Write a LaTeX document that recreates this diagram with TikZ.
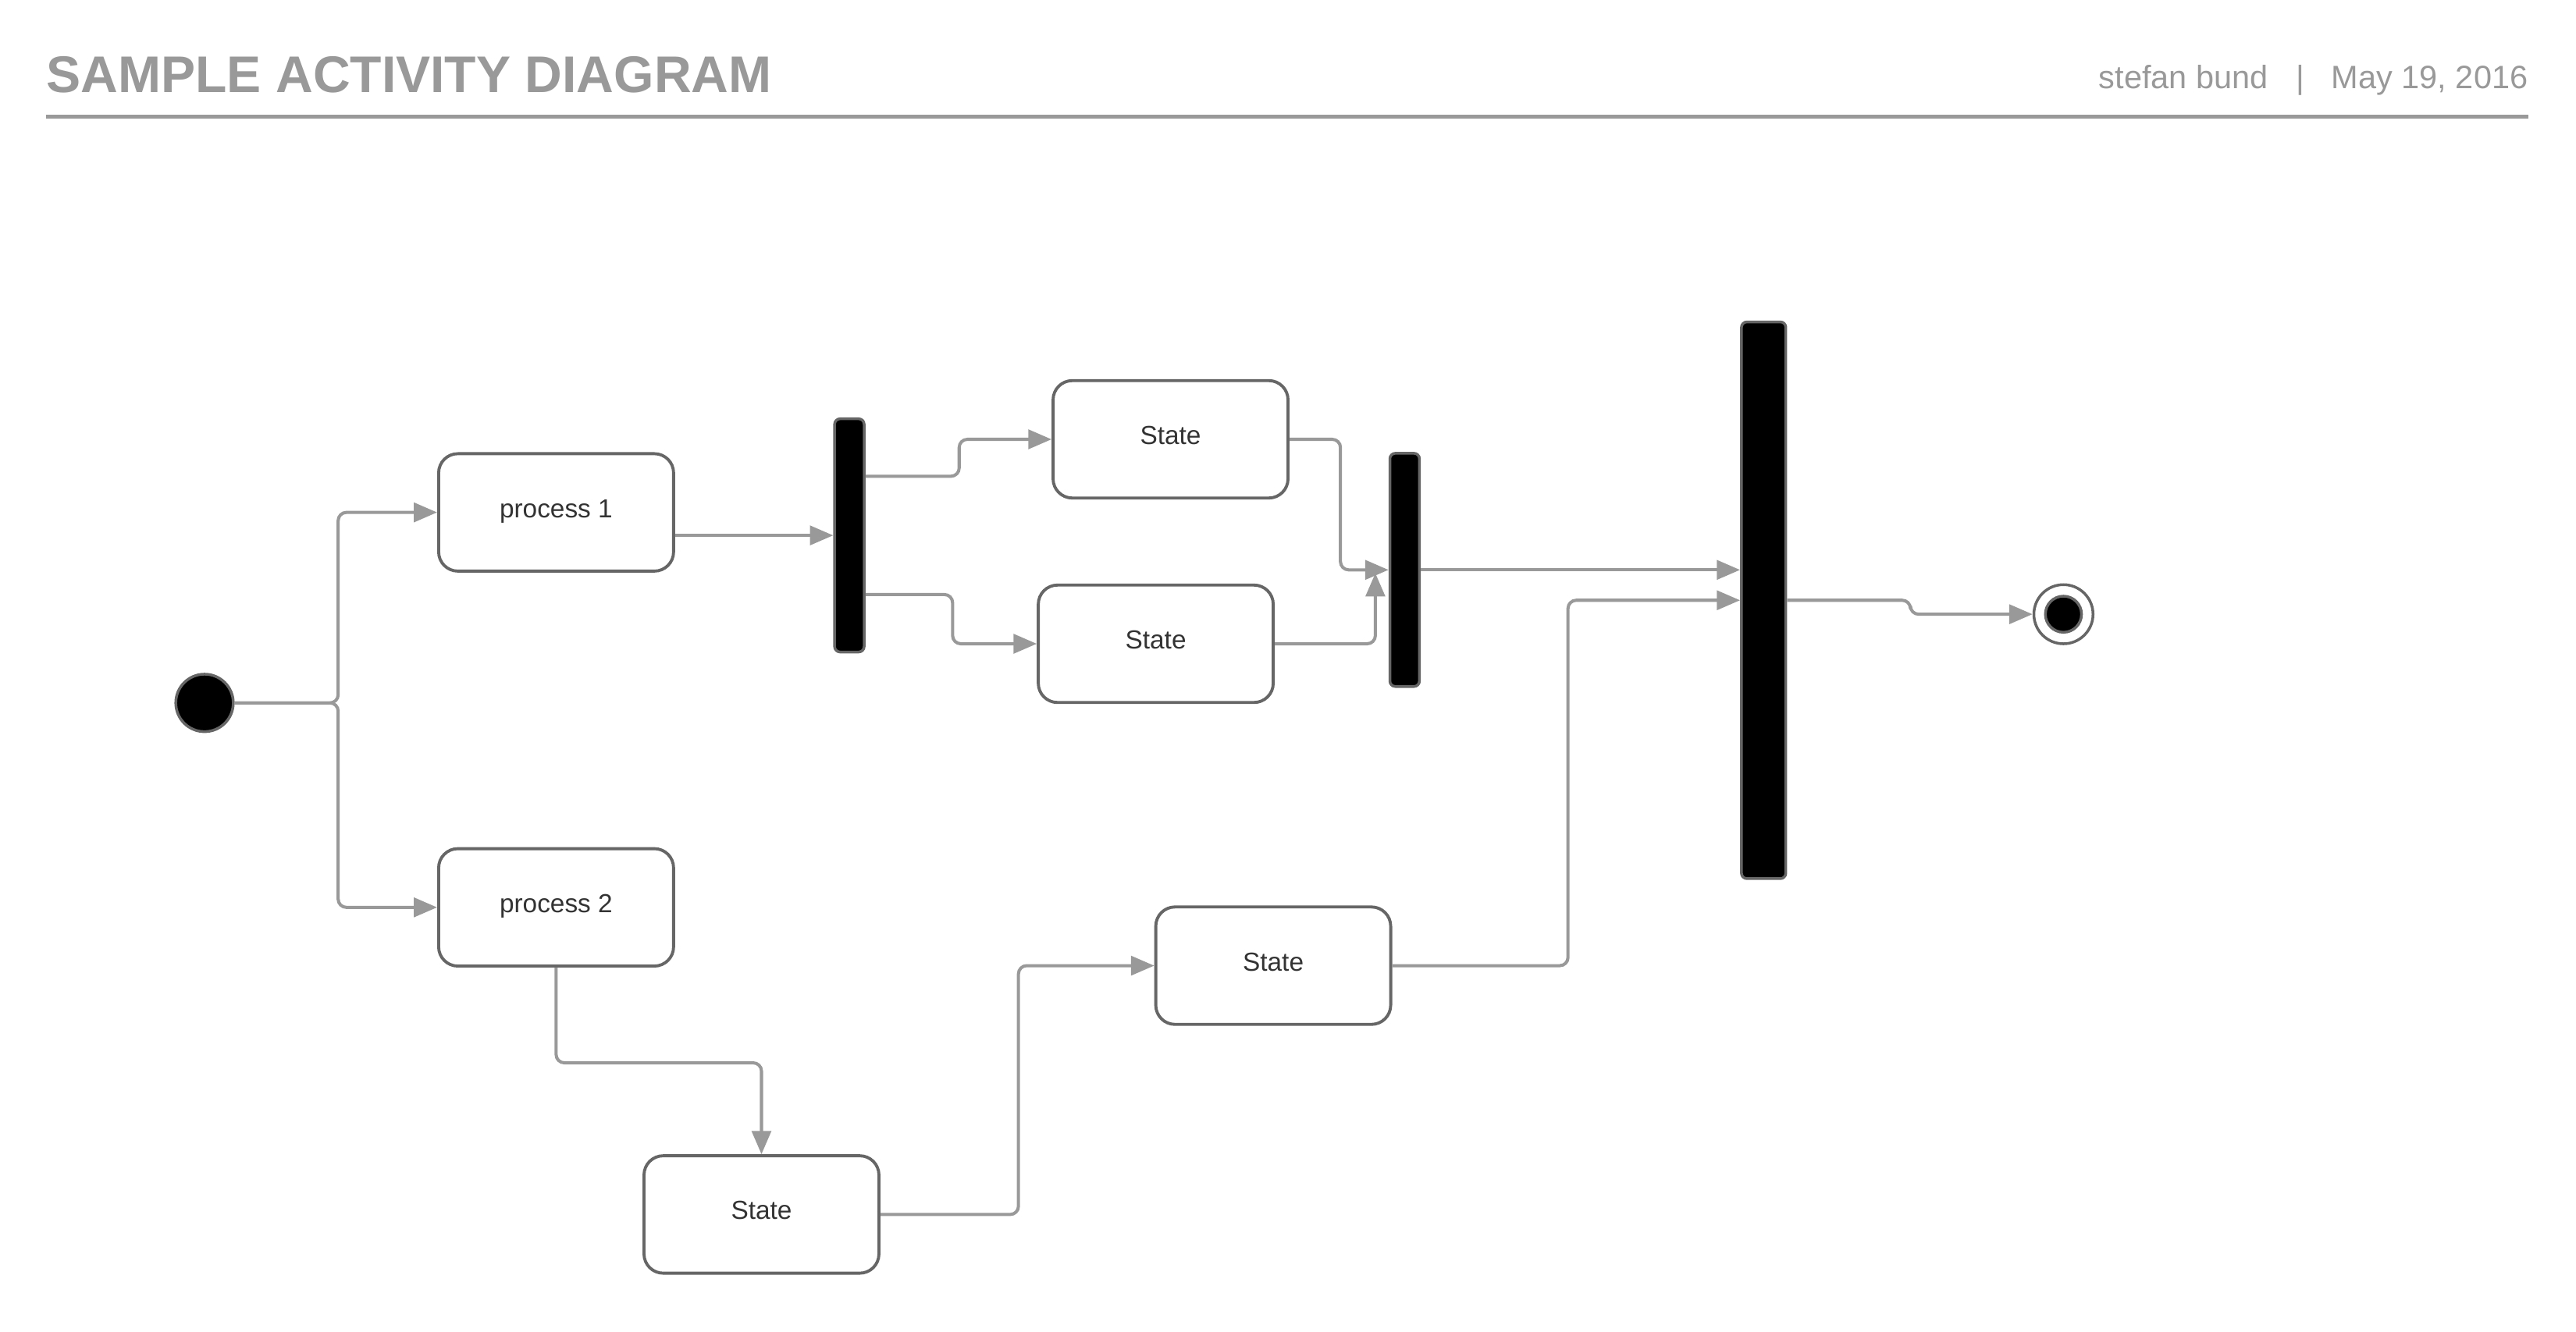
\documentclass[tikz,border=0pt]{standalone}
\usepackage{fontspec}
\setmainfont{Liberation Sans}
\usetikzlibrary{arrows.meta,calc}
\definecolor{hdr}{HTML}{999999}
\definecolor{conn}{HTML}{999999}
\definecolor{bord}{HTML}{666666}
\definecolor{txt}{HTML}{333333}
\def\u{0.021046cm}
\tikzset{
  statebox/.style={draw=bord, line width=1.1pt, rounded corners=7pt, fill=white,
    minimum width=143*\u, minimum height=71.5*\u, inner sep=0pt,
    text height=7pt, text depth=3.3pt,
    font=\fontsize{9.5}{11}\selectfont, text=txt},
  bar/.style={draw=bord, line width=1pt, fill=black, rounded corners=2pt, inner sep=0pt},
  arr/.style={draw=conn, line width=1.15pt, rounded corners=3pt,
    -{Triangle[length=8.5pt,width=7pt]}},
}
\begin{document}
\begin{tikzpicture}[x=\u, y=-\u]
\useasboundingbox (0,0) rectangle (1568,811);
% header
\node[anchor=base west, inner sep=0pt, text=hdr, font=\bfseries\fontsize{18.8}{22}\selectfont] (title) at (28,56.5) {SAMPLE ACTIVITY DIAGRAM};
\node[anchor=base east, inner sep=0pt, text=hdr, font=\fontsize{11.8}{14}\selectfont] (author) at (1381,54) {stefan bund};
\node[anchor=base, inner sep=0pt, text=hdr, font=\fontsize{11.8}{14}\selectfont] (sep) at (1400,54) {|};
\node[anchor=base east, inner sep=0pt, text=hdr, font=\fontsize{11.8}{14}\selectfont] (date) at (1539,54) {May 19, 2016};
\coordinate (hl) at (28,71);
\coordinate (hr) at (1539,71);
\draw[hdr, line width=1.2pt] (hl) -- (hr);

% nodes
\node[circle, draw=bord, line width=1pt, fill=black, minimum size=35*\u, inner sep=0pt] (init) at (124.5,428) {};
\node[statebox] (p1) at (338.5,312) {process 1};
\node[statebox] (p2) at (338.5,552.5) {process 2};
\node[bar, minimum width=18*\u, minimum height=142*\u] (f1) at (517,326) {};
\node[statebox] (sA) at (712.5,267.5) {State};
\node[statebox] (sB) at (703.5,392) {State};
\node[bar, minimum width=18*\u, minimum height=142*\u] (j2) at (855,347) {};
\node[bar, minimum width=27*\u, minimum height=339*\u] (big) at (1073.5,365.5) {};
\node[circle, draw=bord, line width=1pt, fill=white, minimum size=36*\u, inner sep=0pt] (fin) at (1256,374) {};
\node[circle, draw=bord, line width=1pt, fill=black, minimum size=22*\u, inner sep=0pt] (finc) at (1256,374) {};
\node[statebox] (sC) at (463.5,739.5) {State};
\node[statebox] (sD) at (775,588) {State};

% connectors
\draw[arr] (init.east) -- ++(63,0) |- (p1.west);
\draw[arr] (init.east) -- ++(63,0) |- (p2.west);
\draw[arr] (p1.east |- f1.west) -- (f1.west);
\draw[arr] ($(f1.east)+(0,-36)$) -- ++(57,0) |- (sA.west);
\draw[arr] ($(f1.east)+(0,36)$) -- ++(53,0) |- (sB.west);
\draw[arr] (sA.east) -- ++(31,0) |- (j2.west);
\draw[arr] (sB.east) -| ($(j2.west)+(-8,2)$);
\draw[arr] (j2.east) -- (j2.east -| big.west);
\draw[arr] (sD.east) -- ++(107,0) |- (big.west);
\draw[arr] (big.east) -- ++(75,0) |- (fin.west);
\draw[arr] (p2.south) -- ++(0,58) -| (sC.north);
\draw[arr] (sC.east) -- ++(84,0) |- (sD.west);
\end{tikzpicture}
\end{document}
